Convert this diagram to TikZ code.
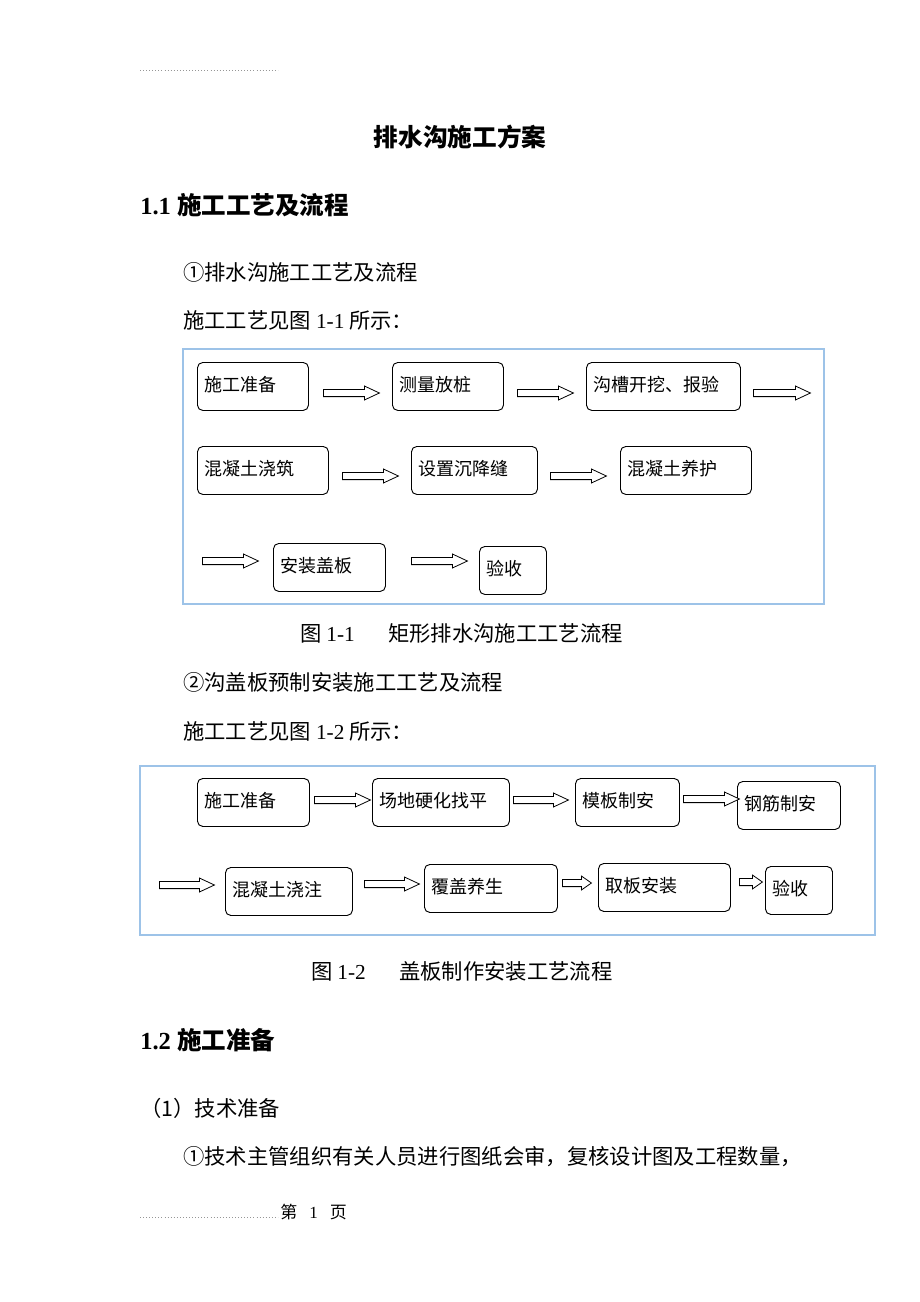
\documentclass[tikz,border=0pt]{standalone}
\usepackage{fontspec}
\usepackage{tikz}
\usetikzlibrary{shapes.arrows}
\setmainfont{Liberation Serif}
\newfontfamily\cjk{Noto Sans CJK SC}
\definecolor{framecol}{RGB}{157,195,232}
\definecolor{rulecol}{RGB}{150,150,150}

\tikzset{
  stage/.style={draw, line width=0.7pt, rounded corners=4pt, anchor=north west,
    align=left, inner xsep=5pt, inner ysep=0pt, text height=21.5pt, text depth=14.5pt,
    text width={#1*0.75pt-10pt}, font=\cjk\fontsize{13.5pt}{16pt}\selectfont},
  flow/.style={single arrow, draw, line width=0.6pt, fill=white, anchor=tail,
    minimum height={#1*0.75pt}, inner xsep=0pt, inner ysep=2.4pt,
    single arrow head extend=2.5pt, single arrow tip angle=50},
  txt/.style={anchor=west, inner sep=0pt, font=\cjk\fontsize{16pt}{18pt}\selectfont},
  sechead/.style={anchor=west, inner sep=0pt, font=\bfseries\fontsize{18.4pt}{20pt}\selectfont},
  dotrule/.style={draw=rulecol, line width=0.3pt, dotted},
}

\begin{document}
\begin{tikzpicture}[x=0.75pt, y=-0.75pt]
  \useasboundingbox (0,0) rectangle (920,1302);
  \fill[white] (0,0) rectangle (920,1302);

  % page head
  \coordinate (r1a) at (140,70);
  \coordinate (r1b) at (278,70);
  \draw[dotrule] (r1a) -- (r1b);
  \node[inner sep=0pt, font=\cjk\bfseries\fontsize{18.5pt}{20pt}\selectfont] (title) at (460,137) {排水沟施工方案};
  \node[sechead] (h11) at (140,205) {1.1 {\cjk 施工工艺及流程}};
  \node[txt] (t1) at (183,272) {①排水沟施工工艺及流程};
  \node[txt] (t2) at (183,320) {施工工艺见图 {\rmfamily 1-1} 所示：};

  % figure 1-1
  \draw[framecol, line width=0.8pt] (183,349) rectangle (824,604);
  \node[stage=111] (s1) at (197,362) {施工准备};
  \node[stage=111] (s2) at (392,362) {测量放桩};
  \node[stage=154] (s3) at (586,362) {沟槽开挖、报验};
  \node[stage=131] (s4) at (197,446) {混凝土浇筑};
  \node[stage=126] (s5) at (411,446) {设置沉降缝};
  \node[stage=131] (s6) at (620,446) {混凝土养护};
  \node[stage=112] (s7) at (273,543) {安装盖板};
  \node[stage=67]  (s8) at (479,546) {验收};

  \node[flow=56] (a1) at (323,393) {};
  \node[flow=56] (a2) at (517,393) {};
  \node[flow=57] (a3) at (753,393) {};
  \node[flow=56] (a4) at (342,476) {};
  \node[flow=56] (a5) at (550,476) {};
  \node[flow=56] (a6) at (202,561) {};
  \node[flow=56] (a7) at (411,561) {};

  \node[txt] (cap1) at (300,633) {图 {\rmfamily 1-1}\hspace{25pt}矩形排水沟施工工艺流程};
  \node[txt] (t3) at (183,682) {②沟盖板预制安装施工工艺及流程};
  \node[txt] (t4) at (183,731) {施工工艺见图 {\rmfamily 1-2} 所示：};

  % figure 1-2
  \draw[framecol, line width=0.8pt] (140,766) rectangle (875,935);
  \node[stage=112] (p1) at (197,778) {施工准备};
  \node[stage=137] (p2) at (372,778) {场地硬化找平};
  \node[stage=104] (p3) at (575,778) {模板制安};
  \node[stage=103] (p4) at (737,781) {钢筋制安};
  \node[stage=127] (p5) at (225,867) {混凝土浇注};
  \node[stage=133] (p6) at (424,864) {覆盖养生};
  \node[stage=132] (p7) at (598,863) {取板安装};
  \node[stage=67]  (p8) at (765,866) {验收};

  \node[flow=56] (b1) at (314,800) {};
  \node[flow=55] (b2) at (513,800) {};
  \node[flow=56] (b3) at (683,799) {};
  \node[flow=55] (b4) at (159,885) {};
  \node[flow=55] (b5) at (364,884) {};
  \node[flow=29, single arrow tip angle=70] (b6) at (562,883) {};
  \node[flow=23, single arrow tip angle=70] (b7) at (739,882) {};

  \node[txt] (cap2) at (311,971) {图 {\rmfamily 1-2}\hspace{25pt}盖板制作安装工艺流程};

  % section 1.2
  \node[sechead] (h12) at (140,1040) {1.2 {\cjk 施工准备}};
  \node[txt] (t5) at (140,1108) {（1）技术准备};
  \node[txt] (t6) at (183,1157) {①技术主管组织有关人员进行图纸会审，复核设计图及工程数量，};

  % page foot
  \coordinate (r2a) at (140,1217);
  \coordinate (r2b) at (278,1217);
  \draw[dotrule] (r2a) -- (r2b);
  \node[anchor=west, inner sep=0pt, font=\cjk\fontsize{12.75pt}{15pt}\selectfont] (foot) at (280,1212) {第\hspace{9pt}{\rmfamily 1}\hspace{9pt}页};
\end{tikzpicture}
\end{document}
